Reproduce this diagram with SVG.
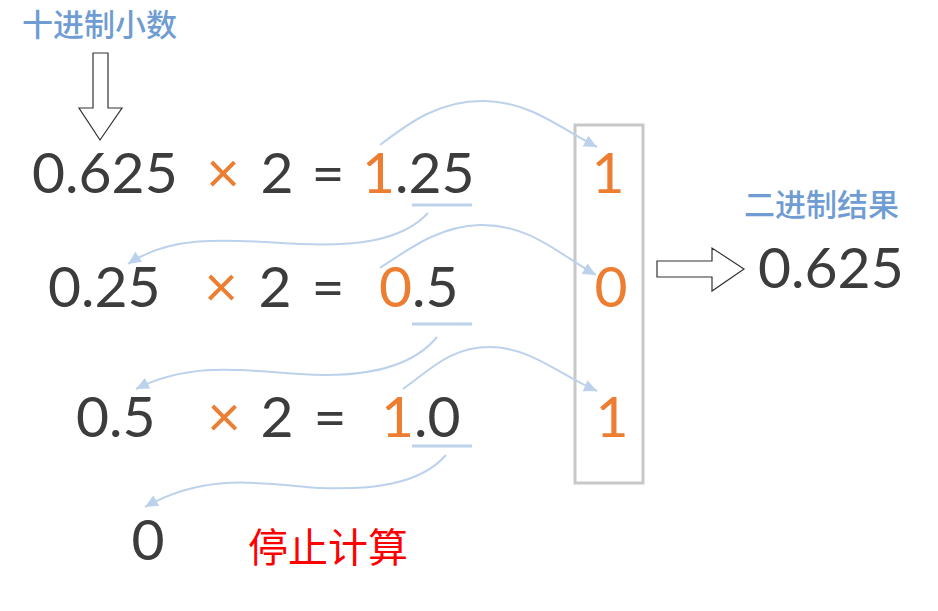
<svg xmlns="http://www.w3.org/2000/svg" width="938" height="611" viewBox="0 0 938 611">
<defs>
<style>
.num{font-family:Lato,"Open Sans","Liberation Sans",sans-serif;font-size:57px;fill:#3c3c3c}
.x{font-size:58px}
.or{fill:#ed7d31}
.cjk{font-family:"Noto Sans CJK SC","Noto Sans",sans-serif}
.title{font-size:31px;fill:#6f9cd2;font-weight:500}
.stop{font-size:40px;fill:#ff0000}
.con{fill:none;stroke:#bcd2ec;stroke-width:2}
.ul{stroke:#bcd2ec;stroke-width:3}
.hollow{fill:#ffffff;stroke:#333333;stroke-width:1.2}
</style>
<marker id="ah" markerUnits="userSpaceOnUse" markerWidth="14" markerHeight="12" refX="13" refY="6" orient="auto">
<path d="M0,0 L13,6 L0,12 z" fill="#bcd2ec"/>
</marker>
</defs>
<rect width="938" height="611" fill="#ffffff"/>

<g id="title-decimal">
<text class="cjk title" x="22" y="36">十进制小数</text>
<polygon class="hollow" points="93,53 108,53 108,108 122,108 100,140 79,108 93,108"/>
</g>

<g id="row1">
<text class="num" x="32" y="193">0.625</text>
<text class="num x or" x="223" y="193" text-anchor="middle">×</text>
<text class="num" x="277" y="193" text-anchor="middle">2</text>
<text class="num" x="328" y="193" text-anchor="middle">=</text>
<text class="num" x="362" y="193"><tspan class="or">1</tspan>.25</text>
<line class="ul" x1="412" y1="205" x2="472" y2="205"/>
</g>

<g id="row2">
<text class="num" x="48" y="307">0.25</text>
<text class="num x or" x="221" y="307" text-anchor="middle">×</text>
<text class="num" x="275" y="307" text-anchor="middle">2</text>
<text class="num" x="328" y="307" text-anchor="middle">=</text>
<text class="num" x="379" y="307"><tspan class="or">0</tspan>.5</text>
<line class="ul" x1="412" y1="324" x2="472" y2="324"/>
</g>

<g id="row3">
<text class="num" x="76" y="437">0.5</text>
<text class="num x or" x="224" y="437" text-anchor="middle">×</text>
<text class="num" x="277" y="437" text-anchor="middle">2</text>
<text class="num" x="330" y="437" text-anchor="middle">=</text>
<text class="num" x="381" y="437"><tspan class="or">1</tspan>.0</text>
<line class="ul" x1="412" y1="446" x2="472" y2="446"/>
</g>

<g id="row4">
<text class="num" x="148" y="560" text-anchor="middle">0</text>
<text class="cjk stop" x="248" y="562">停止计算</text>
</g>

<g id="result-column">
<rect x="575" y="125" width="68" height="358" fill="none" stroke="#c8c8c8" stroke-width="3"/>
<text class="num or" x="608" y="193" text-anchor="middle">1</text>
<text class="num or" x="611" y="307" text-anchor="middle">0</text>
<text class="num or" x="612" y="437" text-anchor="middle">1</text>
</g>

<g id="binary-result">
<polygon class="hollow" points="657,261 712,261 712,248 744,269 712,291 712,277 657,277"/>
<text class="cjk title" x="744" y="216">二进制结果</text>
<text class="num" x="758" y="288">0.625</text>
</g>

<g id="connectors">
<path class="con" marker-end="url(#ah)" d="M380,145 C410,122 440,100 485,101 C530,102 560,128 597,147"/>
<path class="con" marker-end="url(#ah)" d="M428,213 C400,243 350,246 300,244 C240,241 175,232 128,264"/>
<path class="con" marker-end="url(#ah)" d="M380,268 C410,248 440,226 480,225 C530,224 560,255 596,275"/>
<path class="con" marker-end="url(#ah)" d="M437,337 C410,370 360,378 300,374 C240,370 190,362 136,389"/>
<path class="con" marker-end="url(#ah)" d="M403,389 C430,370 450,347 490,347 C530,347 560,375 597,391"/>
<path class="con" marker-end="url(#ah)" d="M446,455 C420,485 370,490 320,488 C270,485 210,470 145,507"/>
</g>
</svg>
